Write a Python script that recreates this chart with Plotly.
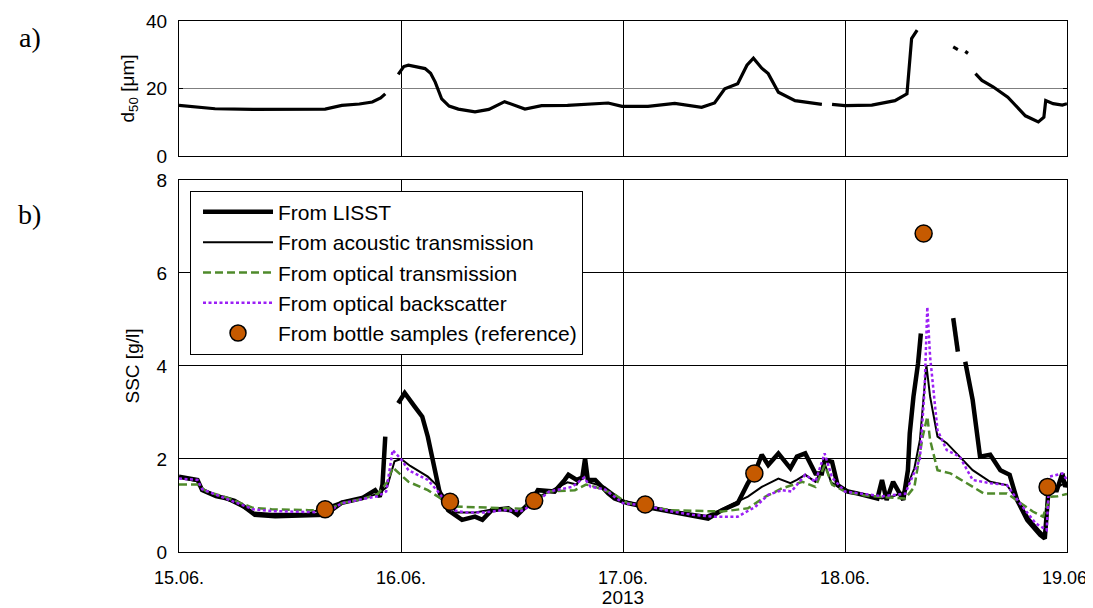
import pandas as pd
import plotly.graph_objects as go

# ---------------- data (hours since 15.06.2013 00:00) ----------------
START = pd.Timestamp("2013-06-15")

d50_h = [0, 2, 3.9, 8, 12, 15.8, 17.6, 19.5, 20.9, 21.8, 22.3, 23, 23.7, 24.3, 24.8, 26.6, 27.2, 27.7,
         28.4, 29.2, 30.2, 32, 33.5, 35.2, 37.4, 39.2, 42, 44, 46.4, 47.9, 50.7, 53.6, 56.5, 57.9, 59.0,
         60.4, 61.4, 62.1, 63.0, 63.7, 64.8, 66.6, 69.5, 70, 70.6, 72, 74.9, 77.4, 78.7, 78.9, 79.2,
         79.8, 81, 83.7, 84.2, 84.5, 85.0, 85.3, 85.6, 86.1, 86.8, 88, 89.6, 91.5, 92.9, 93.5, 93.7,
         94.5, 95.5, 96]
d50_v = [15, 14.5, 14, 13.8, 13.8, 13.9, 15, 15.4, 16, 17.2, 18.4, None, 24.2, 26.5, 26.9, 25.9, 24.5,
         21.9, 16.9, 14.8, 13.9, 13.1, 13.8, 16.1, 13.9, 14.9, 15.0, 15.3, 15.7, 14.7, 14.7, 15.6, 14.4,
         15.7, 19.9, 21.4, 26.9, 29, 26, 24.4, 18.9, 16.4, 15.3, None, 15.3, 14.9, 15.1, 16.4, 18.4,
         25.9, 34.8, 37.3, None, 32.3, 31.5, None, 31, 30.4, None, 24.4, 22.4, 20.5, 17.4, 11.9, 10.1,
         11.5, 16.4, 15.5, 15.1, 15.5]

lisst_h = [0, 1, 2, 2.5, 4, 5, 6, 6.8, 8.2, 10.4, 12, 14, 15.8, 17.6, 19.8, 21.2, 21.7, 22.0, 22.3,
           22.6, 23.7, 24.4, 25.5, 26.3, 26.9, 27.5, 28.2, 29.1, 30.6, 32, 32.8, 33.8, 35.6, 36.6,
           38.2, 38.8, 40.6, 41.7, 42.1, 43, 43.6, 43.9, 44.2, 45, 46.4, 47.1, 48.5, 50.4, 52.5, 54.4,
           57.2, 58.7, 60.4, 61.5, 62.3, 63, 63.7, 64.8, 66.1, 66.8, 67.7, 68.8, 69.5, 69.8, 70.6,
           71.2, 72.3, 73.3, 75.5, 76, 76.5, 77.2, 78.3, 78.8, 79, 79.4, 79.9, 80.2, 81, 83.7, 84.2,
           84.6, 85, 85.8, 86.6, 87.7, 88.8, 89.8, 90.6, 91.7, 93.1, 93.6, 94, 94.9, 95.5, 95.8, 96]
lisst_v = [1.62, 1.58, 1.55, 1.33, 1.2, 1.16, 1.1, 1.01, 0.8, 0.77, 0.78, 0.8, 0.8, 1.06, 1.16, 1.33,
           1.19, 1.45, 2.48, None, 3.2, 3.42, 3.12, 2.91, 2.48, 1.91, 1.26, 0.9, 0.69, 0.76, 0.69,
           0.9, 0.94, 0.8, 1.12, 1.33, 1.3, 1.55, 1.66, 1.55, 1.6, 2.01, 1.55, 1.55, 1.26, 1.15, 1.05,
           0.97, 0.9, 0.83, 0.72, 0.9, 1.05, 1.48, 1.73, 2.09, 1.87, 2.12, 1.8, 2.05, 2.12, 1.69,
           1.69, 1.98, 1.94, 1.44, 1.3, 1.26, 1.15, 1.55, 1.12, 1.51, 1.12, 1.76, 2.55, 3.34, 4.06,
           4.7, None, 5.03, 4.31, None, 4.09, 3.27, 2.05, 2.09, 1.76, 1.66, 1.12, 0.69, 0.37, 0.29,
           1.33, 1.33, 1.69, 1.4, 1.5]

acou_h = [0, 2, 2.5, 5, 8, 10, 14, 17.6, 20, 21.5, 22.5, 23.3, 24, 25, 26.9, 27.8, 28.8, 30, 32, 34,
          36.6, 38.2, 40, 42, 43, 43.9, 44.3, 46, 48, 50.4, 53, 57, 58.5, 60, 61.5, 63, 64.8, 66.1,
          66.8, 67.7, 68.8, 69.8, 70.5, 72, 74, 76, 77.2, 78.5, 79.5, 80.1, 80.8, 81.2, 82, 83, 84.4,
          85.8, 87.7, 89.5, 90.6, 92, 93, 93.6, 94, 95, 96]
acou_v = [1.6, 1.52, 1.35, 1.15, 0.85, 0.82, 0.83, 1.08, 1.17, 1.25, 1.4, 1.95, 2.0, 1.85, 1.62, 1.45,
          1.15, 0.85, 0.85, 0.92, 0.85, 1.12, 1.3, 1.5, 1.45, 1.75, 1.5, 1.4, 1.1, 1.0, 0.9, 0.78,
          0.9, 1.05, 1.19, 1.4, 1.58, 1.48, 1.55, 1.66, 1.51, 1.9, 1.5, 1.32, 1.25, 1.15, 1.2, 1.3,
          1.8, 2.41, 4.02, 3.34, 2.48, 2.34, 2.05, 1.76, 1.51, 1.44, 1.12, 0.7, 0.47, 0.35, 1.3, 1.4,
          1.5]

otrans_h = [0, 2, 3, 5, 8, 10, 14, 16, 17.6, 20, 21.5, 22.5, 23.1, 23.8, 24.8, 26.9, 28, 29.5, 31, 33,
            35, 37, 38.5, 40, 42.8, 44, 45, 47, 48.5, 50.4, 53, 56, 58.7, 61.5, 63.4, 65.2, 67.4,
            68.8, 69.8, 70.6, 72, 74, 76, 78.5, 79.5, 80.4, 80.9, 81.2, 82, 83.4, 85.2, 87, 89.5,
            90.6, 92.3, 93.4, 94.2, 95, 96]
otrans_v = [1.45, 1.45, 1.3, 1.18, 0.95, 0.92, 0.9, 0.9, 1.05, 1.15, 1.25, 1.5, 1.82, 1.7, 1.51, 1.33,
            1.19, 0.98, 0.97, 0.95, 0.95, 0.93, 1.12, 1.3, 1.33, 1.45, 1.4, 1.25, 1.05, 1.0, 0.9,
            0.88, 0.87, 0.94, 1.19, 1.37, 1.51, 1.4, 1.87, 1.45, 1.3, 1.22, 1.18, 1.15, 1.4, 2.48,
            2.91, 2.41, 1.76, 1.69, 1.48, 1.26, 1.26, 1.1, 0.87, 0.76, 1.19, 1.2, 1.25]

oback_h = [0, 2, 2.5, 5, 8, 10, 14, 16, 17.6, 20, 21.5, 22.4, 23.1, 24, 24.8, 26.9, 28, 29.5, 31, 33,
           35, 37, 38.5, 40, 42.5, 43.8, 44.5, 46, 48, 50.4, 53, 55.5, 57.9, 60.4, 62.3, 63.7, 65.2,
           66.2, 67.7, 68.8, 69.8, 70.6, 72, 74, 76, 78.5, 80.1, 80.6, 80.9, 81.2, 82, 83, 84.4, 85.8,
           87.7, 89.5, 90.9, 92.6, 93.8, 94.1, 95.5, 96]
oback_v = [1.58, 1.55, 1.35, 1.15, 0.92, 0.88, 0.85, 0.85, 1.05, 1.15, 1.2, 1.3, 2.19, 2.0, 1.76, 1.55,
           1.3, 0.9, 0.85, 0.85, 0.9, 0.88, 1.05, 1.3, 1.4, 1.6, 1.4, 1.35, 1.05, 1.0, 0.88, 0.8,
           0.76, 0.76, 0.97, 1.23, 1.33, 1.3, 1.66, 1.51, 2.12, 1.6, 1.3, 1.25, 1.2, 1.25, 2.0, 3.48,
           5.27, 4.2, 2.62, 2.19, 2.05, 1.55, 1.48, 1.44, 1.05, 0.62, 0.47, 1.62, 1.69, 1.55]

bottle_h = [15.8, 29.3, 38.4, 50.4, 62.2, 80.5, 93.9]
bottle_v = [0.92, 1.08, 1.1, 1.02, 1.69, 6.85, 1.4]

tick_days = ["15.06.", "16.06.", "17.06.", "18.06.", "19.06."]

# ---------------- helpers ----------------
def t(hours):
    return START + pd.to_timedelta(hours, unit="h")

tick_vals = [START + pd.Timedelta(days=i) for i in range(len(tick_days))]
FONT = "Arial, Liberation Sans, Helvetica, sans-serif"
SERIF = "Liberation Serif, Times New Roman, serif"

fig = go.Figure()

# top panel: d50
fig.add_trace(go.Scatter(x=t(d50_h), y=d50_v, mode="lines", line=dict(color="black", width=3.2),
                         showlegend=False, xaxis="x2", yaxis="y2"))

# bottom panel: SSC
fig.add_trace(go.Scatter(x=t(lisst_h), y=lisst_v, mode="lines", name="From LISST",
                         line=dict(color="black", width=4.5)))
fig.add_trace(go.Scatter(x=t(acou_h), y=acou_v, mode="lines", name="From acoustic transmission",
                         line=dict(color="black", width=2)))
fig.add_trace(go.Scatter(x=t(otrans_h), y=otrans_v, mode="lines", name="From optical transmission",
                         line=dict(color="#4f8a2b", width=2.5, dash="8px,4px")))
fig.add_trace(go.Scatter(x=t(oback_h), y=oback_v, mode="lines", name="From optical backscatter",
                         line=dict(color="#9b1ff5", width=2.5, dash="3px,2.5px")))
fig.add_trace(go.Scatter(x=t(bottle_h), y=bottle_v, mode="markers",
                         name="From bottle samples (reference)",
                         marker=dict(color="#c65a00", size=17, line=dict(color="black", width=1.5))))

axis_common = dict(showline=True, linecolor="black", linewidth=1.3, mirror="ticks",
                   ticks="inside", ticklen=4, tickcolor="black", zeroline=False, automargin=False,
                   tickfont=dict(family=FONT, size=19, color="black"))

# the page body adds an 8 px offset, so the figure is 8 px smaller than the window
fig.update_layout(
    width=1085, height=600,
    margin=dict(l=171, r=26, t=13, b=56, autoexpand=False),
    paper_bgcolor="white", plot_bgcolor="white",
    font=dict(family=FONT, size=19, color="black"),
    xaxis=dict(**axis_common, domain=[0, 1], anchor="y",
               range=[tick_vals[0], tick_vals[-1]], tickvals=tick_vals, ticktext=tick_days,
               showgrid=True, gridcolor="black", gridwidth=1, ticklabelstandoff=9,
               ticklabeloverflow="allow",
               title=dict(text="2013", font=dict(family=FONT, size=19), standoff=2)),
    yaxis=dict(**axis_common, domain=[0, 0.7006], anchor="x", range=[0, 8], dtick=2,
               showgrid=True, gridcolor="black", gridwidth=1, ticklabelstandoff=7,
               title=dict(text="SSC [g/l]", font=dict(family=FONT, size=19), standoff=11)),
    xaxis2=dict(**axis_common, domain=[0, 1], anchor="y2", matches="x",
                tickvals=tick_vals, showticklabels=False,
                showgrid=True, gridcolor="black", gridwidth=1),
    yaxis2=dict(**axis_common, domain=[0.7458, 1], anchor="x2", range=[0, 40], dtick=20,
                showgrid=True, gridcolor="#7f7f7f", gridwidth=1.3, ticklabelstandoff=7,
                title=dict(text="d<sub>50</sub> [\u03bcm]", font=dict(family=FONT, size=19), standoff=6)),
    legend=dict(x=0.0124, y=0.6804, xanchor="left", yanchor="top",
                bgcolor="white", bordercolor="black", borderwidth=1,
                font=dict(family=FONT, size=21, color="black"), itemwidth=70,
                indentation=7, tracegroupgap=0),
    showlegend=True,
)
fig.update_xaxes(tickfont=dict(family=FONT, size=18, color="black"), selector=dict(anchor="y"))

fig.add_annotation(text="a)", xref="paper", yref="paper", x=-0.1678, y=0.968,
                   xanchor="center", yanchor="middle", showarrow=False,
                   font=dict(family=SERIF, size=28, color="black"))
fig.add_annotation(text="b)", xref="paper", yref="paper", x=-0.1678, y=0.6347,
                   xanchor="center", yanchor="middle", showarrow=False,
                   font=dict(family=SERIF, size=28, color="black"))

fig.write_html("out.html")
